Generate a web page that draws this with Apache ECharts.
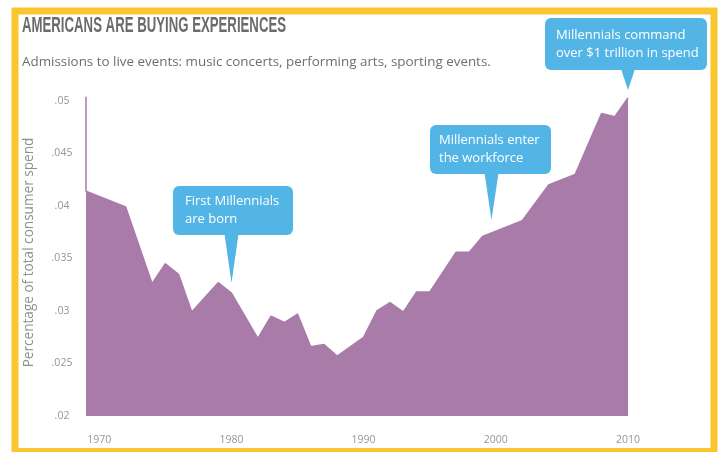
<!DOCTYPE html>
<html>
<head>
<meta charset="utf-8">
<script src="https://cdn.jsdelivr.net/npm/echarts@6/dist/echarts.min.js"></script>
<style>
  html, body { margin: 0; padding: 0; background: #fff; }
  #chart { width: 727px; height: 452px; }
</style>
</head>
<body>
<div id="chart"></div>
<script>
// vertices of the area (1969 appears twice: the thin spike at the left edge)
const years = [1969, 1969, 1972, 1974, 1975, 1976, 1977, 1979, 1980, 1982, 1983, 1984, 1985,
  1986, 1987, 1988, 1990, 1991, 1992, 1993, 1994, 1995, 1997, 1998, 1999, 2000, 2002,
  2004, 2006, 2008, 2009, 2010];
const shares = [0.0504, 0.0414, 0.0399, 0.0326, 0.0345, 0.0335, 0.0299, 0.0327, 0.0317, 0.0274,
  0.0295, 0.0289, 0.0297, 0.0266, 0.0268, 0.0257, 0.0275, 0.0300, 0.0308, 0.0299, 0.0318,
  0.0318, 0.0356, 0.0356, 0.0371, 0.0376, 0.0386, 0.0420, 0.0430, 0.0488, 0.0485, 0.0503];

const yMin = 0.02, yMax = 0.05, yStep = 0.005;
const xLabelStep = 10;

const titleText = 'AMERICANS ARE BUYING EXPERIENCES';
const subtitleText = 'Admissions to live events: music concerts, performing arts, sporting events.';
const yAxisTitle = 'Percentage of total consumer spend';
const notes = [
  ['First Millennials', 'are born'],
  ['Millennials enter', 'the workforce'],
  ['Millennials command', 'over $1 trillion in spend']
];

const PURPLE = '#a97ba8';
const BLUE = '#52b5e5';
const YELLOW = '#f9c630';
const FONT = '"Open Sans", sans-serif';

// speech bubble: rounded box with a narrow pointer underneath
function bubble(x, y, w, h, tipX, tipY, lines, pad) {
  return {
    type: 'group',
    children: [
      { type: 'rect', shape: { x: x, y: y, width: w, height: h, r: 6 }, style: { fill: BLUE } },
      { type: 'polygon', shape: { points: [[tipX - 7, y + h - 1], [tipX + 7, y + h - 1], [tipX, tipY]] },
        style: { fill: BLUE } },
      { type: 'text', x: x + pad, y: y + h / 2,
        style: { text: lines.join('\n'), fill: '#fff', font: '13px ' + FONT, lineHeight: 18,
                 verticalAlign: 'middle' } }
    ]
  };
}

const chart = echarts.init(document.getElementById('chart'));
chart.setOption({
  backgroundColor: '#fff',
  animation: false,
  title: [
    { text: subtitleText, left: 17, top: 51,
      textStyle: { fontFamily: FONT, fontWeight: 'normal', fontSize: 13.4, color: '#6e6e6e' } }
  ],
  grid: { left: 86, right: 99, top: 101, bottom: 36 },
  xAxis: {
    type: 'value',
    min: years[0],
    max: years[years.length - 1],
    axisLine: { show: false },
    axisTick: { show: false },
    splitLine: { show: false },
    axisLabel: {
      margin: 19,
      color: '#959595',
      fontFamily: FONT,
      fontSize: 10.5,
      formatter: v => (v % xLabelStep === 0 ? String(v) : '')
    }
  },
  yAxis: {
    type: 'value',
    min: yMin,
    max: yMax,
    interval: yStep,
    name: yAxisTitle,
    nameLocation: 'middle',
    nameGap: 50,
    nameTextStyle: { color: '#8f8f8f', fontFamily: FONT, fontSize: 13.6, padding: [0, 0, 0, 12] },
    axisLine: { show: false },
    axisTick: { show: false },
    splitLine: { show: false },
    axisLabel: {
      margin: 24,
      align: 'center',
      color: '#959595',
      fontFamily: FONT,
      fontSize: 10.5,
      formatter: v => String(+v.toFixed(3)).replace(/^0/, '')
    }
  },
  series: [{
    type: 'line',
    data: years.map((y, i) => [y, shares[i]]),
    symbol: 'none',
    clip: false,
    lineStyle: { color: PURPLE, width: 1.5 },
    areaStyle: { color: PURPLE, opacity: 1 }
  }],
  graphic: [
    // condensed headline: no narrow font installed, so squeeze a bold sans
    { type: 'text', x: 22, y: 15, scaleX: 0.6,
      style: { text: titleText, font: 'bold 22px "Liberation Sans", sans-serif', fill: '#6b6b6b',
               verticalAlign: 'top' } },
    { type: 'rect', shape: { x: 15, y: 11, width: 699, height: 440.5 },
      style: { fill: 'none', stroke: YELLOW, lineWidth: 7 }, z: 10 },
    bubble(173, 186, 120, 49, 231.5, 283, notes[0], 12),
    bubble(430, 125, 121, 49, 491.5, 220, notes[1], 9),
    bubble(545, 18, 162, 52, 628, 90, notes[2], 11)
  ]
});
</script>
</body>
</html>
